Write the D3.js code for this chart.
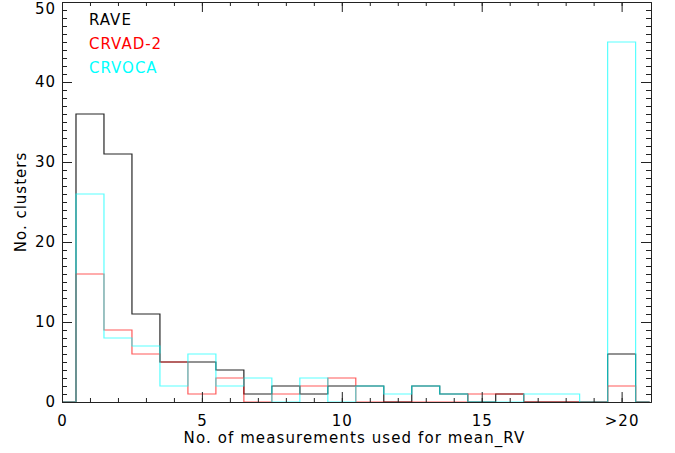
<!DOCTYPE html>
<html>
<head>
<meta charset="utf-8">
<script src="https://cdn.jsdelivr.net/npm/d3@7"></script>
<style>
  body { margin: 0; background: #fff; }
  text { font-family: "DejaVu Sans", sans-serif; }
</style>
</head>
<body>
<div id="chart-area"></div>
<script>
// number of measurements (bin centres); bin 20 stands for ">20"
var bins   = [0, 1, 2, 3, 4, 5, 6, 7, 8, 9, 10, 11, 12, 13, 14, 15, 16, 17, 18, 19, 20, 21];
var rave   = [0, 36, 31, 11, 5, 5, 4, 1, 2, 1, 2, 2, 0, 2, 1, 0, 1, 0, 0, 0, 6, 0];
var crvad2 = [0, 16, 9, 6, 5, 1, 3, 0, 1, 2, 3, 0, 0, 0, 0, 1, 1, 0, 0, 0, 2, 0];
var crvoca = [0, 26, 8, 7, 2, 6, 2, 3, 0, 3, 0, 2, 1, 2, 1, 0, 0, 1, 1, 0, 45, 0];

var seriesNames = ["RAVE", "CRVAD-2", "CRVOCA"];
var seriesColors = ["#000000", "#ff0000", "#00ffff"];

var xMajor = [0, 5, 10, 15, 20];
var xTickLabels = ["0", "5", "10", "15", ">20"];
var yMajor = [0, 10, 20, 30, 40, 50];

var margin = {top: 2, right: 24, bottom: 51, left: 62};
var width = 675 - margin.left - margin.right;
var height = 453 - margin.top - margin.bottom;

var svg = d3.select("#chart-area")
	.append("svg")
		.attr("width", 675)
		.attr("height", 453);

var g = svg.append("g")
	.attr("transform", "translate(" + margin.left + ", " + margin.top + ")");

var x = d3.scaleLinear()
	.domain([0, 21.05])
	.range([0, width]);

var y = d3.scaleLinear()
	.domain([0, 50])
	.range([height, 0]);

svg.append("clipPath")
	.attr("id", "plot-clip")
	.append("rect")
		.attr("width", width)
		.attr("height", height + 1);

// histogram outlines
var line = d3.line()
	.x(function(d) { return x(d[0]); })
	.y(function(d) { return y(d[1]); })
	.curve(d3.curveStep);

[rave, crvad2, crvoca].forEach(function(vals, i) {
	g.append("path")
		.datum(bins.map(function(b, j) { return [b, vals[j]]; }))
		.attr("clip-path", "url(#plot-clip)")
		.attr("fill", "none")
		.attr("stroke", seriesColors[i])
		.attr("stroke-opacity", i == 0 ? 0.85 : 0.65)
		.attr("stroke-width", 1.2)
		.attr("d", line);
});

// axes: minor + major ticks on all four sides, pointing inward
var xMinor = bins.slice(0, 21);
var yMinor = d3.range(0, 51);

function styleAxis(sel) {
	sel.selectAll("path, line").attr("stroke", "#222").attr("stroke-width", 1);
	sel.selectAll("text")
		.attr("fill", "#000")
		.style("font-size", "15px")
		.style("letter-spacing", "1px")
		.style("font-family", "DejaVu Sans, sans-serif");
}

g.append("g")
	.attr("transform", "translate(0, " + height + ")")
	.call(d3.axisBottom(x).tickValues(xMinor).tickSize(-4).tickSizeOuter(0).tickFormat(""))
	.call(styleAxis);
g.append("g")
	.attr("transform", "translate(0, " + height + ")")
	.call(d3.axisBottom(x).tickValues(xMajor).tickSize(-10).tickSizeOuter(0).tickPadding(13)
		.tickFormat(function(d, i) { return xTickLabels[i]; }))
	.call(styleAxis);

g.append("g")
	.call(d3.axisTop(x).tickValues(xMinor).tickSize(-4).tickSizeOuter(0).tickFormat(""))
	.call(styleAxis);
g.append("g")
	.call(d3.axisTop(x).tickValues(xMajor).tickSize(-10).tickSizeOuter(0).tickFormat(""))
	.call(styleAxis);

g.append("g")
	.call(d3.axisLeft(y).tickValues(yMinor).tickSize(-5).tickSizeOuter(0).tickFormat(""))
	.call(styleAxis);
var leftMajor = g.append("g")
	.call(d3.axisLeft(y).tickValues(yMajor).tickSize(-10).tickSizeOuter(0).tickPadding(6))
	.call(styleAxis);
// keep the top label inside the picture
leftMajor.selectAll(".tick text")
	.filter(function(d) { return d == 50; })
	.attr("dy", "0.74em");

g.append("g")
	.attr("transform", "translate(" + width + ", 0)")
	.call(d3.axisRight(y).tickValues(yMinor).tickSize(-5).tickSizeOuter(0).tickFormat(""))
	.call(styleAxis);
g.append("g")
	.attr("transform", "translate(" + width + ", 0)")
	.call(d3.axisRight(y).tickValues(yMajor).tickSize(-10).tickSizeOuter(0).tickFormat(""))
	.call(styleAxis);

// axis labels
g.append("text")
	.attr("x", width / 2 - 2)
	.attr("y", height + 41)
	.attr("text-anchor", "middle")
	.attr("font-size", "15px")
	.style("letter-spacing", "1.1px")
	.style("fill", "black")
	.text("No. of measurements used for mean_RV");

g.append("text")
	.attr("x", -(height / 2))
	.attr("y", -36)
	.attr("text-anchor", "middle")
	.attr("font-size", "15px")
	.style("letter-spacing", "1px")
	.attr("transform", "rotate(-90)")
	.style("fill", "black")
	.text("No. clusters");

// legend
seriesNames.forEach(function(name, i) {
	g.append("text")
		.attr("x", 27)
		.attr("y", 23 + i * 24)
		.attr("font-size", "15px")
		.style("letter-spacing", "1px")
		.style("fill", seriesColors[i])
		.text(name);
});
</script>
</body>
</html>
